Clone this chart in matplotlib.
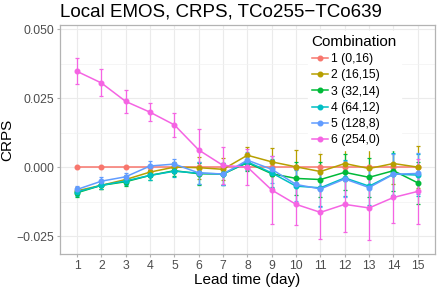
import numpy as np
import matplotlib
matplotlib.use("Agg")
import matplotlib.pyplot as plt
from matplotlib.lines import Line2D

plt.rcParams["font.family"] = ["Liberation Sans", "DejaVu Sans"]

days = np.arange(1, 16)
labels = ["1 (0,16)", "2 (16,15)", "3 (32,14)", "4 (64,12)", "5 (128,8)", "6 (254,0)"]
colors = ["#F8766D", "#B79F00", "#00BA38", "#00BFC4", "#619CFF", "#F564E3"]

crps1 = [0.0] * 15
crps2 = [-0.0086, -0.0066, -0.0045, -0.0018, 0.0000, -0.0002, -0.0008, 0.0043,
         0.0019, 0.0001, -0.0016, 0.0013, -0.0005, 0.0013, 0.0000]
crps3 = [-0.0093, -0.0066, -0.0053, -0.0030, -0.0013, -0.0024, -0.0025, 0.0016,
         -0.0024, -0.0041, -0.0045, -0.0019, -0.0037, -0.0013, -0.0057]
crps4 = [-0.0090, -0.0066, -0.0050, -0.0030, -0.0015, -0.0022, -0.0025, 0.0019,
         -0.0021, -0.0069, -0.0075, -0.0039, -0.0069, -0.0025, -0.0029]
crps5 = [-0.0081, -0.0051, -0.0035, 0.0004, 0.0011, -0.0021, -0.0025, 0.0025,
         -0.0008, -0.0063, -0.0079, -0.0043, -0.0074, -0.0026, -0.0023]
crps6 = [0.0347, 0.0305, 0.0238, 0.0199, 0.0153, 0.0062, 0.0006, 0.0000,
         -0.0083, -0.0135, -0.0164, -0.0135, -0.0148, -0.0110, -0.0088]

# half widths of the error bars
err1 = [0.0] * 15
err_mid = [0.0014, 0.0014, 0.0015, 0.0018, 0.0020, 0.0040, 0.0040, 0.0030,
           0.0050, 0.0060, 0.0065, 0.0065, 0.0070, 0.0075, 0.0075]
err6 = [0.0047, 0.0049, 0.0043, 0.0032, 0.0044, 0.0077, 0.0068, 0.0066,
        0.0123, 0.0076, 0.0097, 0.0100, 0.0115, 0.0093, 0.0117]

series = [crps1, crps2, crps3, crps4, crps5, crps6]
errors = [err1, err_mid, err_mid, err_mid, err_mid, err6]

fig = plt.figure(figsize=(4.41, 2.89), dpi=100)
ax = fig.add_axes([0.136, 0.121, 0.850, 0.7925])

handles = []
for vals, err, col, lab in zip(series, errors, colors, labels):
    ax.errorbar(days, vals, yerr=err, color=col, lw=1.1, marker="o", ms=3.3,
                elinewidth=0.9, capsize=1.5, capthick=0.9, alpha=1)
    handles.append(Line2D([], [], color=col, lw=1.1, marker="o", ms=3.3, label=lab))

ax.set_xlim(0.3, 15.7)
ax.set_ylim(-0.0315, 0.0515)
ax.set_xticks(days)
ax.set_yticks([-0.025, 0.0, 0.025, 0.05])
ax.set_yticklabels(["\u22120.025", "0.000", "0.025", "0.050"])
ax.set_yticks([-0.0125, 0.0125, 0.0375], minor=True)
ax.grid(True, which="major", color="#EBEBEB", lw=0.8)
ax.grid(True, which="minor", axis="y", color="#F2F2F2", lw=0.5)
ax.set_axisbelow(True)
for s in ax.spines.values():
    s.set_color("#B3B3B3")
    s.set_linewidth(0.9)
ax.tick_params(which="both", length=2, color="#B3B3B3", labelcolor="#4D4D4D",
               labelsize=8.8, pad=2)
ax.tick_params(which="minor", length=0)

ax.set_xlabel("Lead time (day)", fontsize=11, labelpad=1)
ax.set_ylabel("CRPS", fontsize=11, labelpad=2)
fig.text(0.136, 0.93, "Local EMOS, CRPS, TCo255\u2212TCo639", fontsize=13.5,
         ha="left", va="bottom")

leg = ax.legend(handles=handles, title="Combination", loc="upper right",
                bbox_to_anchor=(0.925, 1.0), fontsize=8.8, title_fontsize=11,
                frameon=True, fancybox=False, edgecolor="white", framealpha=1,
                handlelength=1.3, labelspacing=0.35, borderpad=0.3,
                handletextpad=0.3)
leg._legend_box.align = "left"

fig.savefig("out.png", dpi=100)
